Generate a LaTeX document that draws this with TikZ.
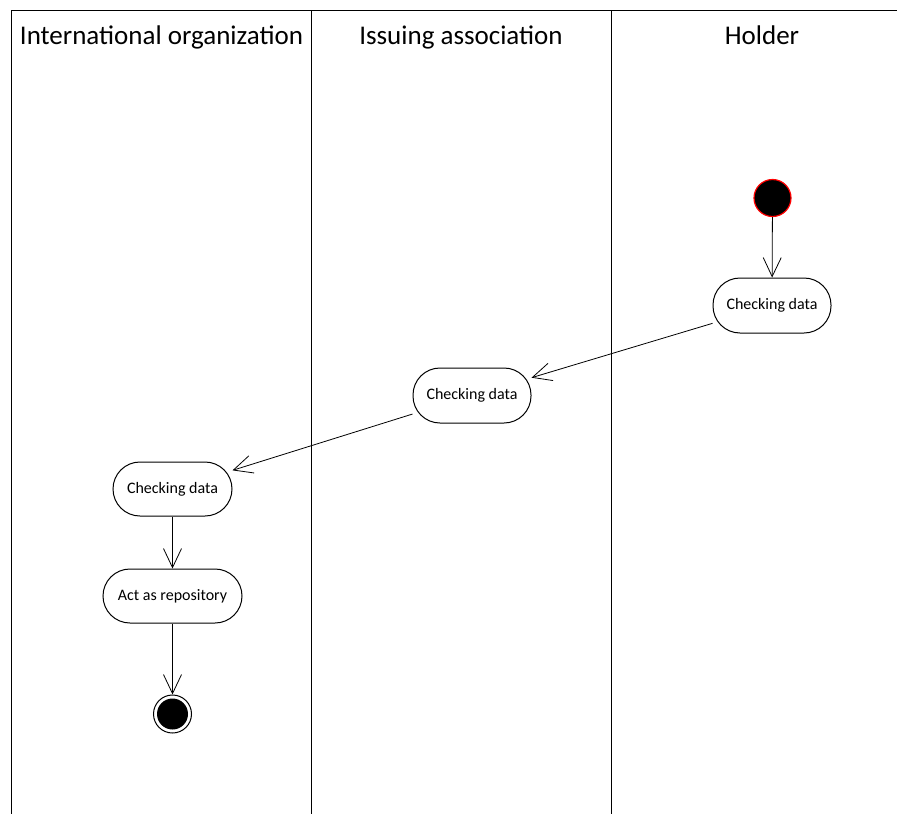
\documentclass[tikz,border=0pt]{standalone}
\usepackage{fontspec}
\setmainfont{Carlito}
\usetikzlibrary{arrows.meta}
\begin{document}
\begin{tikzpicture}[x=1pt,y=-1pt,
  lane/.style={line width=1pt,black},
  lanetitle/.style={font=\fontsize{27}{32}\selectfont,anchor=base,inner sep=0pt},
  act/.style={rectangle,rounded corners=27pt,draw,line width=1pt,minimum height=55pt,minimum width=118pt,inner sep=0pt,font=\fontsize{16}{19}\selectfont},
  flow/.style={line width=0.8pt,-{Straight Barb[length=19pt,width=18pt,line width=0.8pt]}},
]
\useasboundingbox (0,0) rectangle (897,814);
% swimlanes
\coordinate (tl) at (11,10.5);
\coordinate (tr) at (897,10.5);
\coordinate (l1t) at (311,10.5);
\coordinate (l2t) at (611,10.5);
\coordinate (bl) at (11,814);
\coordinate (l1b) at (311,814);
\coordinate (l2b) at (611,814);
\draw[lane] (tl) -- (tr);
\draw[lane] (tl) -- (bl);
\draw[lane] (l1t) -- (l1b);
\draw[lane] (l2t) -- (l2b);
\node[lanetitle] (t1) at (161.5,44.5) {International organization};
\node[lanetitle] (t2) at (461,44.5) {Issuing association};
\node[lanetitle] (t3) at (762,44.5) {Holder};
% nodes
\node[circle,fill=black,draw=red,line width=1.2pt,minimum size=37pt,inner sep=0pt] (start) at (772.5,198) {};
\node[act] (h1) at (772,305.5) {Checking data};
\node[act] (i1) at (472,395.5) {Checking data};
\node[act,minimum height=54pt,minimum width=119pt] (c1) at (172.5,489) {Checking data};
\node[act,minimum height=54pt,minimum width=139pt] (a1) at (172.5,596) {Act as repository};
\node[circle,draw=black,line width=1pt,minimum size=38pt,inner sep=0pt] (end) at (172.5,714) {};
\fill[black] (end.center) circle (15.5pt);
% flows
\draw[flow] (start) -- (h1);
\draw[flow] (h1) -- (i1);
\draw[flow] (i1) -- (c1);
\draw[flow] (c1) -- (a1);
\draw[flow] (a1) -- (end);
\end{tikzpicture}
\end{document}
